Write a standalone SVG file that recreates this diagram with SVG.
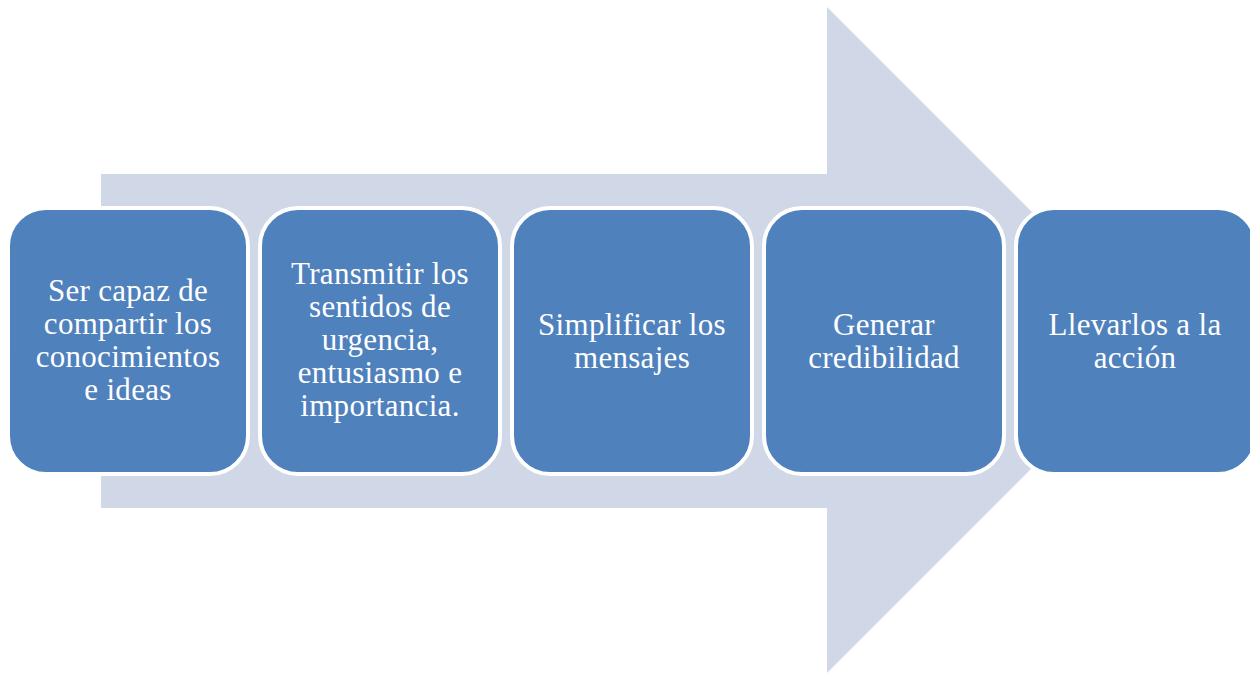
<svg xmlns="http://www.w3.org/2000/svg" width="1250" height="674" viewBox="0 0 1250 674">
<style>
.box{fill:#4F81BD;stroke:#FFFFFF;stroke-width:4}
.t{font-family:"Liberation Serif","Times New Roman",serif;font-size:31px;letter-spacing:0.3px;fill:#FFFFFF;text-anchor:middle}
</style>
<rect width="1250" height="674" fill="#FFFFFF"/>
<g id="arrow">
<polygon points="101,174 827,174 827,7 1160,340 827,673 827,508 101,508" fill="#D0D8E8"/>
</g>
<g id="connectors"></g>
<g id="node1">
<rect class="box" x="8" y="208" width="240" height="266" rx="38"/>
<text class="t"><tspan x="128" y="301">Ser capaz de</tspan><tspan x="128" y="334">compartir los</tspan><tspan x="128" y="367">conocimientos</tspan><tspan x="128" y="400">e ideas</tspan></text>
</g>
<g id="node2">
<rect class="box" x="260" y="208" width="240" height="266" rx="38"/>
<text class="t"><tspan x="380" y="284">Transmitir los</tspan><tspan x="380" y="317">sentidos de</tspan><tspan x="380" y="350">urgencia,</tspan><tspan x="380" y="383">entusiasmo e</tspan><tspan x="380" y="416">importancia.</tspan></text>
</g>
<g id="node3">
<rect class="box" x="512" y="208" width="240" height="266" rx="38"/>
<text class="t"><tspan x="632" y="335">Simplificar los</tspan><tspan x="632" y="368">mensajes</tspan></text>
</g>
<g id="node4">
<rect class="box" x="764" y="208" width="240" height="266" rx="38"/>
<text class="t"><tspan x="884" y="335">Generar</tspan><tspan x="884" y="368">credibilidad</tspan></text>
</g>
<g id="node5">
<rect class="box" x="1016" y="208" width="240" height="266" rx="38"/>
<text class="t"><tspan x="1135" y="335">Llevarlos a la</tspan><tspan x="1135" y="368">acción</tspan></text>
</g>
</svg>
